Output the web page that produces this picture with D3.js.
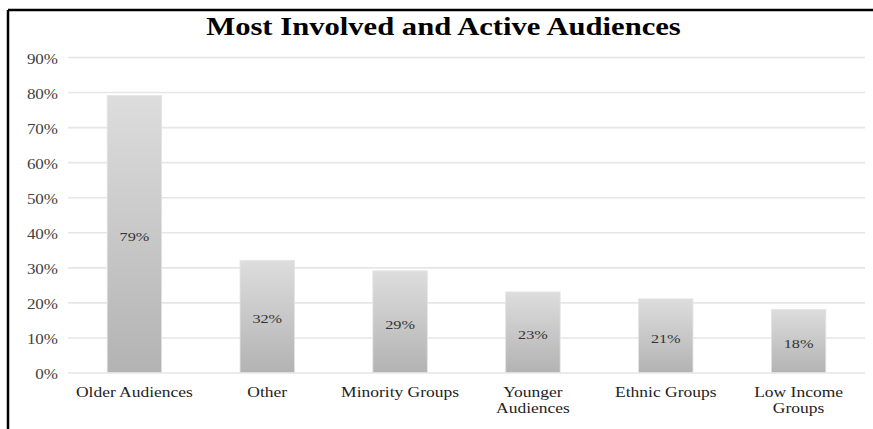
<!DOCTYPE html>
<html>
<head>
<meta charset="utf-8">
<script src="https://cdn.jsdelivr.net/npm/d3@7"></script>
<style>
  html, body { margin: 0; padding: 0; background: #fff; overflow: hidden; }
  svg { display: block; font-family: "Liberation Serif", "Times New Roman", serif; }
</style>
</head>
<body>
<svg id="chart" width="873" height="429"></svg>
<script>
// Audience groups and the share of respondents naming each
const categories = ["Older Audiences", "Other", "Minority Groups", "Younger Audiences", "Ethnic Groups", "Low Income Groups"];
const categoryLines = [["Older Audiences"], ["Other"], ["Minority Groups"], ["Younger", "Audiences"], ["Ethnic Groups"], ["Low Income", "Groups"]];
const values = [79, 32, 29, 23, 21, 18];
const tickValues = [0, 10, 20, 30, 40, 50, 60, 70, 80, 90];
const title = "Most Involved and Active Audiences";

const svg = d3.select("#chart");
const W = 873, H = 429;
const plot = { left: 68, right: 865, top: 57, bottom: 372.5 };
const SX = 1.25; // horizontal stretch applied to all lettering

// Frame: heavy rule along the top and left edge
svg.append("line").attr("x1", 8).attr("x2", W).attr("y1", 10).attr("y2", 10)
  .attr("stroke", "#000").attr("stroke-width", 2.5);
svg.append("line").attr("x1", 8).attr("x2", 8).attr("y1", 10).attr("y2", H)
  .attr("stroke", "#000").attr("stroke-width", 2.5);

// Bar gradient: light at the top, darker toward the baseline
const defs = svg.append("defs");
const grad = defs.append("linearGradient").attr("id", "barGrad")
  .attr("x1", 0).attr("y1", 0).attr("x2", 0).attr("y2", 1);
grad.append("stop").attr("offset", "0%").attr("stop-color", "#dddddd");
grad.append("stop").attr("offset", "100%").attr("stop-color", "#b3b3b3");

const x = d3.scaleBand().domain(categories).range([plot.left, plot.right]).paddingInner(0.59).paddingOuter(0.295);
const y = d3.scaleLinear().domain([0, 90]).range([plot.bottom, plot.top]);

// Horizontal gridlines and percentage tick labels
const yAxis = d3.axisLeft(y).tickValues(tickValues).tickFormat(d => d + "%")
  .tickSize(-(plot.right - plot.left)).tickPadding(10);
const gy = svg.append("g").attr("transform", `translate(${plot.left},0)`).call(yAxis);
gy.select(".domain").remove();
gy.selectAll(".tick line").attr("stroke", "#e6e6e6").attr("stroke-width", 1.6);
gy.selectAll(".tick text")
  .attr("x", -10 / SX).attr("dy", "0.47em")
  .attr("transform", `scale(${SX},1)`)
  .attr("fill", "#404040").attr("font-size", 13.6)
  .attr("font-family", "Liberation Serif, serif");

// Bars
svg.append("g").selectAll("rect").data(values).join("rect")
  .attr("x", (d, i) => x(categories[i]))
  .attr("y", d => y(d))
  .attr("width", x.bandwidth())
  .attr("height", d => y(0) - y(d))
  .attr("fill", "url(#barGrad)")
  .attr("stroke", "#e4e4e4").attr("stroke-width", 0.8);

// Value labels, centred in each bar
svg.append("g").selectAll("text").data(values).join("text")
  .attr("transform", (d, i) =>
    `translate(${x(categories[i]) + x.bandwidth() / 2},${(y(d) + y(0)) / 2 + 7}) scale(${SX},1)`)
  .attr("text-anchor", "middle")
  .attr("font-size", 13).attr("fill", "#333")
  .text(d => d + "%");

// Category labels (wrapped onto two lines where needed)
const cat = svg.append("g").selectAll("text").data(categories).join("text")
  .attr("transform", d => `translate(${x(d) + x.bandwidth() / 2},397) scale(${SX},1)`)
  .attr("text-anchor", "middle")
  .attr("font-size", 14).attr("fill", "#222");
cat.each(function(d, i) {
  d3.select(this).selectAll("tspan").data(categoryLines[i]).join("tspan")
    .attr("x", 0)
    .attr("dy", (t, j) => j === 0 ? 0 : 16)
    .text(t => t);
});

// Title
svg.append("text")
  .attr("transform", `translate(443.5,35) scale(${SX},1)`)
  .attr("text-anchor", "middle").attr("font-weight", "bold")
  .attr("font-size", 24.5).attr("fill", "#000")
  .text(title);
</script>
</body>
</html>
